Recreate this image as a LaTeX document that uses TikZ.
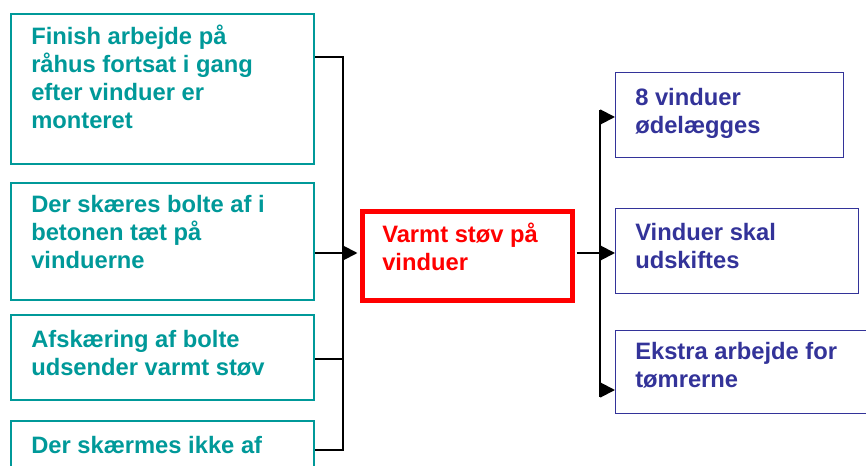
\documentclass[tikz,border=0pt]{standalone}
\usepackage{fontspec}
\setmainfont{Liberation Sans}
\usetikzlibrary{arrows.meta}
\definecolor{tealc}{RGB}{0,153,153}
\definecolor{bluec}{RGB}{51,51,153}
\definecolor{redc}{RGB}{255,0,0}
\newcommand{\lns}[1]{\begin{tabular}[t]{@{}l@{}}#1\end{tabular}}
\begin{document}
\begin{tikzpicture}[x=0.75pt,y=-0.75pt,
  txt/.style={anchor=base west,inner sep=0pt,font=\bfseries\fontsize{17.8}{21}\selectfont},
  lbox/.style={draw=tealc,line width=1.5pt,anchor=north west,inner sep=0pt},
  rbox/.style={draw=bluec,line width=1.1pt,anchor=north west,inner sep=0pt},
  conn/.style={black,line width=1.5pt},
  arr/.style={conn,-{Triangle[length=11pt,width=11pt]}}]
\clip (0,0) rectangle (866,466);
\fill[white] (0,0) rectangle (866,466);
% left boxes
\node[lbox,minimum width=303*0.75pt,minimum height=150*0.75pt] (b1) at (10,13) {};
\node[lbox,minimum width=303*0.75pt,minimum height=117*0.75pt] (b2) at (10,182) {};
\node[lbox,minimum width=303*0.75pt,minimum height=85*0.75pt] (b3) at (10,314) {};
\node[lbox,minimum width=303*0.75pt,minimum height=80*0.75pt] (b4) at (10,420) {};
\node[txt,text=tealc] (t1) at (31,45) {\lns{Finish arbejde på\\råhus fortsat i gang\\efter vinduer er\\monteret}};
\node[txt,text=tealc] (t2) at (31,213) {\lns{Der skæres bolte af i\\betonen tæt på\\vinduerne}};
\node[txt,text=tealc] (t3) at (31,347) {\lns{Afskæring af bolte\\udsender varmt støv}};
\node[txt,text=tealc] (t4) at (31,453) {\lns{Der skærmes ikke af}};
% centre box
\node[draw=redc,line width=3.75pt,anchor=north west,inner sep=0pt,minimum width=210*0.75pt,minimum height=88*0.75pt] (c) at (359.5,209.5) {};
\node[txt,text=redc] (tc) at (382,243) {\lns{Varmt støv på\\vinduer}};
% right boxes
\node[rbox,minimum width=228*0.75pt,minimum height=85*0.75pt] (r1) at (615,72) {};
\node[rbox,minimum width=243*0.75pt,minimum height=85*0.75pt] (r2) at (615,208) {};
\node[rbox,minimum width=252*0.75pt,minimum height=83*0.75pt] (r3) at (615,330) {};
\node[txt,text=bluec] (tr1) at (635,106) {\lns{8 vinduer\\ødelægges}};
\node[txt,text=bluec] (tr2) at (635,241) {\lns{Vinduer skal\\udskiftes}};
\node[txt,text=bluec] (tr3) at (635,359) {\lns{Ekstra arbejde for\\tømrerne}};
% left connectors
\coordinate (ja) at (343,57);
\coordinate (jb) at (343,253);
\coordinate (jc) at (343,359);
\coordinate (jd) at (343,450);
\draw[conn] (b1.east |- ja) -- (ja) -- (jd) -- (b4.east |- jd);
\draw[conn] (b2.east |- jb) -- (jb);
\draw[conn] (b3.east |- jc) -- (jc);
\draw[arr] (jb) -- ([xshift=-1.5pt]c.west |- jb);
% right connectors
\coordinate (ka) at (600,117);
\coordinate (kb) at (600,253);
\coordinate (kc) at (600,390);
\coordinate (ktop) at (600,110);
\coordinate (kbot) at (600,397);
\draw[conn] ([xshift=1.5pt]c.east |- kb) -- (kb);
\draw[conn] (ktop) -- (kbot);
\draw[arr] (ka) -- (r1.west |- ka);
\draw[arr] (kb) -- (r2.west |- kb);
\draw[arr] (kc) -- (r3.west |- kc);
\end{tikzpicture}
\end{document}
